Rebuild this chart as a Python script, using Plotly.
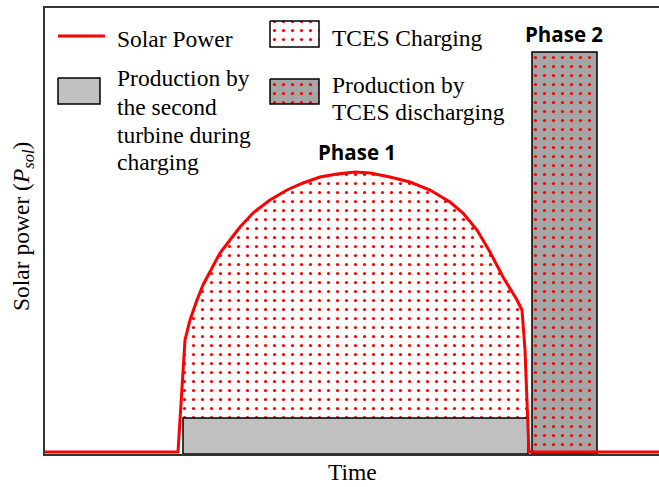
import plotly.graph_objects as go

# ---- data (arbitrary units: time on x, power on y) ----
time = [0, 133, 140, 145, 152, 158, 167, 175, 185, 195, 208, 225, 242, 258, 275, 292, 310,
        325, 345, 365, 385, 405, 418, 432, 445, 458, 472, 477, 480, 484, 614]
solar_power = [2, 2, 114, 134, 154, 169, 186, 201, 214, 227, 241, 254, 264, 271, 277, 280, 282,
               281, 277, 272, 264, 252, 241, 224, 202, 177, 154, 144, 104, 2, 2]

turbine_start = 138
turbine_end = 483
turbine_level = 36

discharge_start = 487
discharge_end = 552
discharge_level = 402

X_RANGE = [0, 614]
Y_RANGE = [0, 446]

# ---- layout geometry (pixels) ----
W, H = 659, 487
L, R, T, B = 45, 0, 8, 33
PW, PH = W - L - R, H - T - B

def px(x):
    return (x - L) / PW

def py(y):
    return (H - B - y) / PH

SERIF = "Liberation Serif"
SANS = "Open Sans"
RED = "#ff0000"
GRAY1 = "#c0c0c0"
GRAY2 = "#a6a6a6"
DOTS_W = dict(shape=".", fgcolor=RED, bgcolor="white", size=9, solidity=0.1, fgopacity=1)
DOTS_G = dict(shape=".", fgcolor=RED, bgcolor=GRAY2, size=9, solidity=0.1, fgopacity=1)

fig = go.Figure()

# TCES charging area under the dome
fig.add_trace(go.Scatter(
    x=time[1:-1], y=solar_power[1:-1], mode="none", fill="tozeroy",
    fillpattern=DOTS_W, hoverinfo="skip", showlegend=False))

# production by second turbine during charging
fig.add_trace(go.Scatter(
    x=[turbine_start, turbine_start, turbine_end, turbine_end, turbine_start],
    y=[0, turbine_level, turbine_level, 0, 0],
    mode="lines", fill="toself", fillcolor=GRAY1,
    line=dict(color="black", width=1.5), showlegend=False))

# production by TCES discharging
fig.add_trace(go.Scatter(
    x=[discharge_start, discharge_start, discharge_end, discharge_end, discharge_start],
    y=[0, discharge_level, discharge_level, 0, 0],
    mode="lines", fill="toself", fillpattern=DOTS_G,
    line=dict(color="black", width=1.5), showlegend=False))

# solar power line
fig.add_trace(go.Scatter(
    x=time, y=solar_power, mode="lines",
    line=dict(color=RED, width=3), showlegend=False))

# ---- legend swatches on a pixel-mapped overlay axis ----
def box(x0, y0, x1, y1, **kw):
    fig.add_trace(go.Scatter(
        x=[x0, x0, x1, x1, x0], y=[y0, y1, y1, y0, y0],
        mode="lines", fill="toself", line=dict(color="black", width=1.5),
        xaxis="x2", yaxis="y2", showlegend=False, hoverinfo="skip", **kw))

fig.add_trace(go.Scatter(x=[58, 105], y=[36, 36], mode="lines",
                         line=dict(color=RED, width=3), xaxis="x2", yaxis="y2",
                         showlegend=False, hoverinfo="skip"))
box(58, 78, 100, 104, fillcolor=GRAY1)
box(270, 21, 319, 47, fillpattern=DOTS_W)
box(270, 79, 319, 104, fillpattern=DOTS_G)

annotations = []

def text(x, y, s, size=23.5, family=SERIF, xanchor="left", bold=False, angle=0):
    annotations.append(dict(
        x=px(x), y=py(y), xref="paper", yref="paper", text=s, showarrow=False,
        xanchor=xanchor, yanchor="middle", textangle=angle,
        font=dict(family=family, size=size, color="black",
                  weight="bold" if bold else "normal")))

FS = 23.5
off = 7.5
text(115, 46 - off, "Solar Power")
for i, line in enumerate(["Production by", "the second", "turbine during", "charging"]):
    text(115, 86 + 28 * i - off, line)
text(330, 45 - off, "TCES Charging")
text(330, 92 - off, "Production by")
text(330, 120 - off, "TCES discharging")

text(564, 34, "Phase 2", size=20.5, family=SANS, xanchor="center", bold=True)
text(357, 152, "Phase 1", size=20.5, family=SANS, xanchor="center", bold=True)

text(352, 472, "Time", size=FS, xanchor="center")
text(23, 227, "Solar power (<i>P<sub>sol</sub></i>)", size=FS, xanchor="center", angle=-90)

fig.update_layout(
    width=W, height=H,
    margin=dict(l=L, r=R, t=T, b=B, pad=0),
    plot_bgcolor="white", paper_bgcolor="white",
    showlegend=False,
    annotations=annotations,
    xaxis=dict(range=X_RANGE, showgrid=False, zeroline=False, showticklabels=False,
               ticks="", showline=True, linecolor="#333333", linewidth=2, mirror=True),
    yaxis=dict(range=Y_RANGE, showgrid=False, zeroline=False, showticklabels=False,
               ticks="", showline=True, linecolor="#333333", linewidth=2),
    xaxis2=dict(range=[L, W - R], overlaying="x", visible=False, fixedrange=True),
    yaxis2=dict(range=[H - B, T], overlaying="y", visible=False, fixedrange=True),
)

fig.write_html("out.html",
               config={"displayModeBar": False},
               post_script="document.body.style.margin='0';document.body.style.overflow='hidden';")
